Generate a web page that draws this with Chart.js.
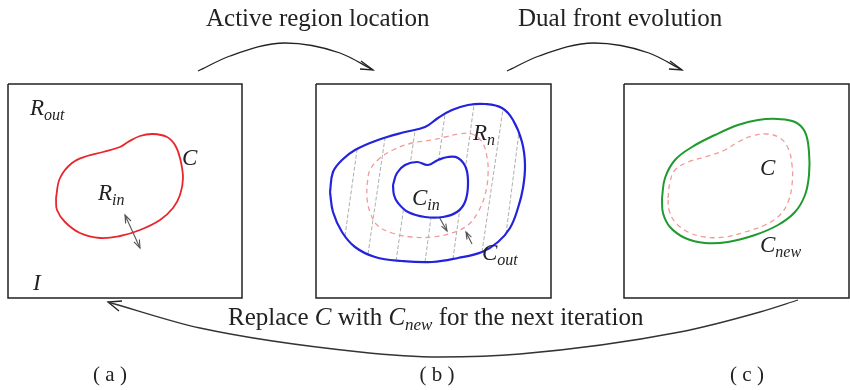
<!DOCTYPE html>
<html>
<head>
<meta charset="utf-8">
<script src="https://cdn.jsdelivr.net/npm/chart.js@4/dist/chart.umd.min.js"></script>
<style>
  html, body { margin: 0; padding: 0; background: #fff; }
  #wrap { width: 850px; height: 390px; }
</style>
</head>
<body>
<div id="wrap"><canvas id="diagram" width="850" height="390"></canvas></div>
<script>
// frames of the three panels
const boxA = [[8,84],[242,84],[242,298],[8,298],[8,84]];
const boxB = [[316,84],[551,84],[551,298],[316,298],[316,84]];
const boxC = [[624,84],[849,84],[849,298],[624,298],[624,84]];

// (a) initial curve C
const curveC = [[56,198],[60,178],[72,163],[87,156],[103,152],[120,147],[128,142],[140,136],[153,134],
  [167,137],[175,145],[180,158],[183,178],[180,195],[173,208],[160,220],[140,230],[120,236],[100,238],
  [80,233],[65,222],[57,210]];

// (b) outer / inner fronts and the old curve (dashed)
const curveOut = [[330,192],[333,172],[342,160],[355,150],[378,140],[405,132],[425,127],[438,118],[452,110],
  [468,105],[485,104],[502,108],[513,120],[522,142],[525,165],[523,188],[518,208],[510,228],[498,242],
  [482,252],[458,258],[432,262],[402,261],[375,257],[355,247],[342,232],[333,212]];
const curveIn = [[393,185],[397,173],[405,165],[417,162],[428,165],[438,160],[448,157],[458,158],[466,168],
  [468,185],[465,202],[457,212],[443,217],[425,217],[408,212],[398,203],[394,195]];
const curveMid = [[367,185],[370,170],[380,158],[393,150],[412,143],[432,140],[445,137],[458,134],[472,134],
  [482,142],[487,157],[488,175],[485,195],[478,212],[468,225],[452,233],[432,237],[412,237],[392,233],
  [377,225],[370,212],[367,198]];
const hatch = [
  [[345,236],[357,150]], [[368,254],[385,138]], [[396,261],[415,131]], [[425,262],[445,114]],
  [[453,259],[474,105]], [[482,252],[503,109]], [[506,234],[519,132]]
];

// (c) new curve and previous curve (dashed)
const curveNew = [[662,198],[665,178],[675,160],[692,147],[715,135],[738,125],[758,120],[778,119],[795,122],
  [805,132],[809,152],[809,175],[805,195],[795,212],[778,225],[755,235],[728,242],[705,243],[685,238],
  [670,227],[663,213]];
const curveOld = [[668,198],[670,182],[675,170],[688,162],[705,157],[725,150],[738,142],[752,136],[767,134],
  [780,138],[788,148],[792,165],[792,185],[788,202],[780,215],[765,225],[745,232],[725,237],[705,237],
  [688,232],[675,222],[669,210]];

// connecting arrows
const arcTop1 = [[198,71],[230,56],[285,43],[340,53],[373,70]];
const arcTop2 = [[507,71],[539,56],[594,43],[649,53],[682,70]];
const arcBottom = [[108,302],[200,328],[360,352],[440,357],[520,354],[680,332],[760,312],[798,300]];
const heads = [
  [[361,61],[373,70],[360,69]],
  [[670,61],[682,70],[669,69]],
  [[122,301],[108,302],[119,311]]
];

// small normal arrows
const smallShafts = [ [[125,215],[140,248]], [[438,215],[447,231]], [[472,244],[466,232]] ];
const smallHeads = [
  [[131,221],[125,215],[125.6,223.5]],
  [[139.4,239.5],[140,248],[134,241.9]],
  [[445.8,223.7],[447,231],[441.4,226.1]],
  [[471.4,237.1],[466,232],[466.9,239.4]]
];

// texts: [text, style]  r = roman, i = italic, s = subscript
const textItems = [
  { x: 206, y: 26, parts: [['Active region location', 'r']] },
  { x: 518, y: 26, parts: [['Dual front evolution', 'r']] },
  { x: 228, y: 325, parts: [['Replace ', 'r'], ['C', 'ri'], [' with ', 'r'], ['C', 'ri'], ['new', 'rs'], [' for the next iteration', 'r']] },
  { x: 110, y: 381, center: true, parts: [['( a )', 'l']] },
  { x: 437, y: 381, center: true, parts: [['( b )', 'l']] },
  { x: 747, y: 381, center: true, parts: [['( c )', 'l']] },
  { x: 30, y: 115, parts: [['R', 'i'], ['out', 's']] },
  { x: 182, y: 165, parts: [['C', 'i']] },
  { x: 98, y: 200, parts: [['R', 'i'], ['in', 's']] },
  { x: 33, y: 290, parts: [['I', 'i']] },
  { x: 473, y: 140, parts: [['R', 'i'], ['n', 's']] },
  { x: 412, y: 205, parts: [['C', 'i'], ['in', 's']] },
  { x: 482, y: 260, parts: [['C', 'i'], ['out', 's']] },
  { x: 760, y: 175, parts: [['C', 'i']] },
  { x: 760, y: 252, parts: [['C', 'i'], ['new', 's']] }
];

const SERIF = "'Liberation Serif', 'Times New Roman', serif";
const styles = {
  r:  { font: '25px ' + SERIF, dy: 0 },
  ri: { font: 'italic 25px ' + SERIF, dy: 0 },
  rs: { font: 'italic 17px ' + SERIF, dy: 5 },
  l:  { font: '21px ' + SERIF, dy: 0 },
  i:  { font: 'italic 23px ' + SERIF, dy: 0 },
  s:  { font: 'italic 16px ' + SERIF, dy: 5 }
};

const pts = arr => arr.map(p => ({ x: p[0], y: p[1] }));
const loop = arr => pts(arr.concat([arr[0]]));

function lineSet(data, color, width, extra) {
  return Object.assign({
    data, showLine: true, borderColor: color, borderWidth: width,
    pointRadius: 0, fill: false, tension: 0
  }, extra || {});
}

const datasets = [];
// curves on top
datasets.push(lineSet(loop(curveC), '#e8262b', 1.8, { tension: 0.4, order: 1 }));
datasets.push(lineSet(loop(curveOut), '#2323dc', 2.2, { tension: 0.4, order: 1 }));
datasets.push(lineSet(loop(curveIn), '#2323dc', 2.2, { tension: 0.4, order: 2, fill: 'shape', backgroundColor: '#fff' }));
datasets.push(lineSet(loop(curveMid), '#f29a9a', 1.3, { tension: 0.4, order: 3, borderDash: [5, 4] }));
datasets.push(lineSet(loop(curveNew), '#1f9a2f', 2.0, { tension: 0.4, order: 1 }));
datasets.push(lineSet(loop(curveOld), '#f29a9a', 1.3, { tension: 0.4, order: 3, borderDash: [5, 4] }));
hatch.forEach(h => datasets.push(lineSet(pts(h), '#9a9a9a', 0.8, { order: 5, borderDash: [4, 2] })));
[boxA, boxB, boxC].forEach(b => datasets.push(lineSet(pts(b), '#222', 1.5, { order: 4 })));
[arcTop1, arcTop2].forEach(a => datasets.push(lineSet(pts(a), '#222', 1.3, { cubicInterpolationMode: 'monotone', order: 4 })));
datasets.push(lineSet(pts(arcBottom), '#333', 1.3, { cubicInterpolationMode: 'monotone', order: 4 }));
heads.forEach(h => datasets.push(lineSet(pts(h), '#222', 1.3, { order: 4 })));
smallShafts.forEach(s => datasets.push(lineSet(pts(s), '#555', 1.1, { order: 4 })));
smallHeads.forEach(h => datasets.push(lineSet(pts(h), '#555', 1.1, { order: 4 })));

const textPlugin = {
  id: 'labels',
  afterDraw(chart) {
    const ctx = chart.ctx;
    const sx = chart.scales.x, sy = chart.scales.y;
    ctx.save();
    ctx.fillStyle = '#222';
    ctx.textBaseline = 'alphabetic';
    ctx.textAlign = 'left';
    textItems.forEach(item => {
      let total = 0;
      item.parts.forEach(p => { ctx.font = styles[p[1]].font; total += ctx.measureText(p[0]).width; });
      let x = sx.getPixelForValue(item.x) - (item.center ? total / 2 : 0);
      const y = sy.getPixelForValue(item.y);
      item.parts.forEach(p => {
        const st = styles[p[1]];
        ctx.font = st.font;
        ctx.fillText(p[0], x, y + st.dy);
        x += ctx.measureText(p[0]).width;
      });
    });
    ctx.restore();
  }
};

new Chart(document.getElementById('diagram'), {
  type: 'scatter',
  data: { datasets },
  options: {
    responsive: false,
    animation: false,
    devicePixelRatio: 1,
    layout: { padding: 0 },
    scales: {
      x: { type: 'linear', min: 0, max: 850, display: false },
      y: { type: 'linear', min: 0, max: 390, reverse: true, display: false }
    },
    plugins: { legend: { display: false }, tooltip: { enabled: false } }
  },
  plugins: [textPlugin]
});
</script>
</body>
</html>
